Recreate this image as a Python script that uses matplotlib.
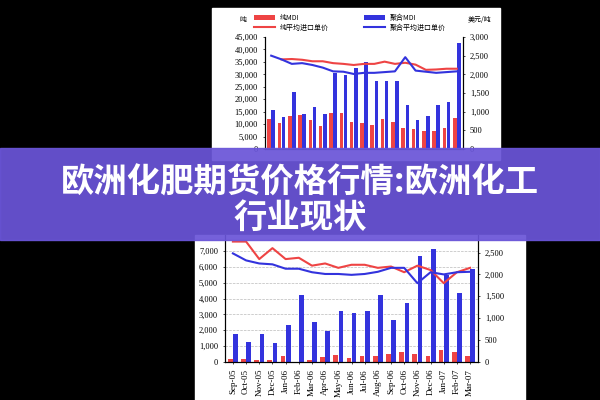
import numpy as np
import matplotlib.pyplot as plt

plt.rcParams['font.family'] = ['Noto Sans CJK SC', 'DejaVu Sans']

# top chart data (thousand tons / USD per ton)
top_red = [12.2, 10.4, 13.2, 13.5, 11.5, 9.3, 14.3, 14.4, 10.9, 10.4, 9.8, 12.0, 11.0, 8.5, 7.9, 7.3, 7.3, 8.5, 12.6]
top_blue = [15.5, 12.7, 23.0, 13.9, 16.9, 14.0, 30.7, 29.9, 32.7, 35.0, 27.5, 27.3, 27.3, 17.7, 11.6, 13.4, 17.6, 18.8, 42.5]
top_red_price = [np.nan, 2400, 2410, 2390, 2350, 2350, 2300, 2280, 2250, 2280, 2280, 2340, 2280, 2310, 2260, 2120, 2130, 2150, 2150]
top_blue_price = [2500, 2400, 2280, 2300, 2250, 2180, 2080, 2070, 2010, 2040, 2040, 2060, 2080, 2460, 2100, 2070, 2040, 2060, 2080]

# bottom chart data
months = ['Sep-05', 'Oct-05', 'Nov-05', 'Dec-05', 'Jan-06', 'Feb-06', 'Mar-06', 'Apr-06', 'May-06', 'Jun-06',
          'Jul-06', 'Aug-06', 'Sep-06', 'Oct-06', 'Nov-06', 'Dec-06', 'Jan-07', 'Feb-07', 'Mar-07']
bot_red = [200, 200, 120, 100, 400, 30, 100, 300, 420, 230, 400, 350, 520, 600, 500, 350, 780, 600, 400]
bot_blue = [1750, 1250, 1750, 1200, 2300, 4250, 2550, 1950, 3200, 3100, 3200, 4250, 2650, 3700, 6650, 7100, 5500, 4350, 5850]
bot_red_price = [2750, 2750, 2350, 2600, 2350, 2380, 2200, 2250, 2150, 2220, 2220, 2150, 2180, 2050, 2200, 2100, 1800, 2050, 2150]
bot_blue_price = [2480, 2320, 2250, 2230, 2130, 2130, 2050, 2010, 2010, 1990, 2010, 2060, 2150, 2150, 1800, 2050, 2000, 2050, 2060]

title = '欧洲化肥期货价格行情:欧洲化工\n行业现状'

W, H = 600, 400
fig = plt.figure(figsize=(6, 4), dpi=100, facecolor='black')


def px(x0, y0, x1, y1):
    return [x0 / W, 1 - y1 / H, (x1 - x0) / W, (y1 - y0) / H]


red, blue = '#ee4444', '#3333dd'
x = np.arange(19)
tf = dict(fontsize=6, family=['Liberation Serif', 'DejaVu Serif'])

# white panels
fig.patches.append(plt.Rectangle((212 / W, 1 - 160 / H), 288 / W, 152 / H, transform=fig.transFigure,
                                 color='white', zorder=-5))
fig.patches.append(plt.Rectangle((195 / W, 0), 330 / W, 165 / H, transform=fig.transFigure,
                                 color='white', zorder=-5))

# top chart
ax = fig.add_axes(px(265, 37, 463, 149))
ax.bar(x - 0.2, top_red, 0.35, color=red, label='纯MDI')
ax.bar(x + 0.2, top_blue, 0.35, color=blue, label='聚合MDI')
ax.set_ylim(0, 45)
ax.set_yticks(range(0, 46, 5))
ax.set_yticklabels([f'{v * 1000:,}' for v in range(0, 46, 5)], **tf)
ax.set_xlim(-0.6, 18.6)
ax.set_xticks([])
ax.set_facecolor('none')
ax.spines['top'].set_visible(False)
ax.tick_params(length=1.5, width=0.5)
ax2 = ax.twinx()
ax2.plot(x, top_red_price, color=red, lw=1.5, label='纯平均进口单价')
ax2.plot(x, top_blue_price, color=blue, lw=1.5, label='聚合平均进口单价')
ax2.set_ylim(0, 3000)
ax2.set_yticks(range(0, 3001, 500))
ax2.set_yticklabels([f'{v:,}' for v in range(0, 3001, 500)], **tf)
ax2.spines['top'].set_visible(False)
ax2.tick_params(length=1.5, width=0.5)
fig.text(243 / W, 1 - 20 / H, '吨', fontsize=5, ha='center', va='center')
fig.text(480 / W, 1 - 20 / H, '美元/吨', fontsize=5, ha='center', va='center')
h1, l1 = ax.get_legend_handles_labels()
h2, l2 = ax2.get_legend_handles_labels()
fig.legend([h1[0], h2[0], h1[1], h2[1]], [l1[0], l2[0], l1[1], l2[1]], ncol=2, loc='center',
           bbox_to_anchor=(350 / W, 1 - 23 / H), fontsize=5, frameon=False, handlelength=3,
           columnspacing=5, labelspacing=0.2)

# bottom chart
bx = fig.add_axes(px(225, 235, 478, 362))
bx.set_facecolor('none')
bx.bar(x - 0.2, bot_red, 0.35, color=red)
bx.bar(x + 0.2, bot_blue, 0.35, color=blue)
bx.set_ylim(0, 8000)
bx.set_yticks(range(0, 7001, 1000))
bx.set_yticklabels([f'{v:,}' for v in range(0, 7001, 1000)], **tf)
bx.yaxis.grid(True, ls='--', lw=0.5, color='#bbbbbb')
bx.set_axisbelow(True)
bx.set_xlim(-0.6, 18.6)
bx.set_xticks(x)
bx.set_xticklabels(months, rotation=90, fontsize=6.5, family=['Liberation Serif', 'DejaVu Serif'])
bx.spines['top'].set_visible(False)
bx.tick_params(length=1.5, width=0.5)
bx2 = bx.twinx()
bx2.plot(x, bot_red_price, color=red, lw=1.5)
bx2.plot(x, bot_blue_price, color=blue, lw=1.5)
bx2.set_ylim(0, 2900)
bx2.set_yticks(range(0, 2501, 500))
bx2.set_yticklabels([f'{v:,}' for v in range(0, 2501, 500)], **tf)
bx2.spines['top'].set_visible(False)
bx2.tick_params(length=1.5, width=0.5)

# title band
fig.patches.append(plt.Rectangle((0, 1 - 240 / H), 1, 92 / H, transform=fig.transFigure,
                                 color='#6a55d8', alpha=0.93, zorder=10))
fig.text(0.5, 1 - 201 / H, title, fontsize=24, weight='bold', color='white', ha='center', va='center',
         linespacing=1.1, zorder=11)

fig.savefig('out.png', dpi=100, facecolor='black')
